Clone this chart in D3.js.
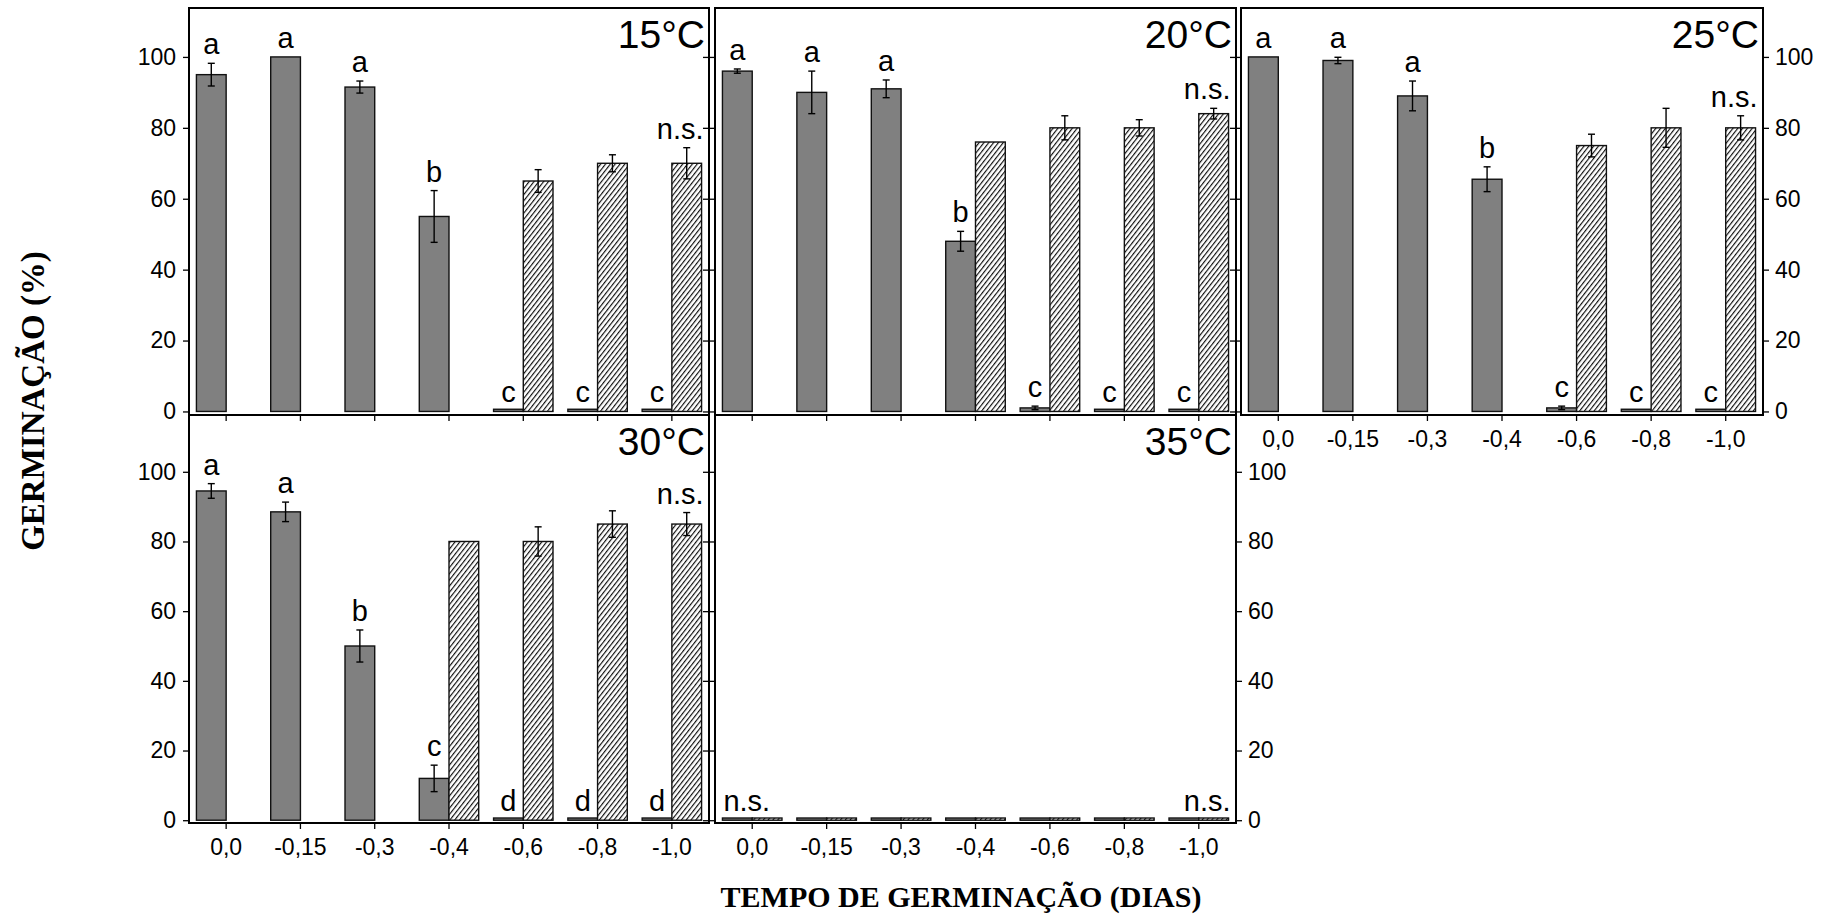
<!DOCTYPE html>
<html>
<head>
<meta charset="utf-8">
<script src="https://cdn.jsdelivr.net/npm/d3@7"></script>
<style>
  html, body { margin: 0; padding: 0; background: #fff; }
  svg { display: block; }
  .tick text { font-family: "Liberation Sans", Arial, sans-serif; font-size: 23px; fill: #000; }
</style>
</head>
<body>
<svg id="chart" width="1829" height="915"></svg>
<script>
// Osmotic potentials (MPa) on the category axis
const categories = ["0,0", "-0,15", "-0,3", "-0,4", "-0,6", "-0,8", "-1,0"];
const temperatures = ["15°C", "20°C", "25°C", "30°C", "35°C"];
const yTicks = [0, 20, 40, 60, 80, 100];

// Germination (%) in PEG solution (grey bars) with standard error
const germ15 = [95, 100, 91.5, 55, 0, 0, 0];
const germErr15 = [3.2, 0, 1.7, 7.3, 0, 0, 0];
const germ20 = [96, 90, 91, 48, 1, 0, 0];
const germErr20 = [0.6, 6, 2.5, 2.8, 0.5, 0, 0];
const germ25 = [100, 99, 89, 65.5, 1, 0, 0];
const germErr25 = [0, 0.9, 4.2, 3.5, 0.5, 0, 0];
const germ30 = [94.5, 88.5, 50, 12, 0, 0, 0];
const germErr30 = [2.1, 2.8, 4.6, 3.8, 0, 0, 0];
const germ35 = [0, 0, 0, 0, 0, 0, 0];
const germErr35 = [0, 0, 0, 0, 0, 0, 0];

// Germination (%) after transfer to water (hatched bars); null = not tested
const recov15 = [null, null, null, null, 65, 70, 70];
const recovErr15 = [null, null, null, null, 3.2, 2.4, 4.4];
const recov20 = [null, null, null, 76, 80, 80, 84];
const recovErr20 = [null, null, null, 0, 3.4, 2.3, 1.5];
const recov25 = [null, null, null, null, 75, 80, 80];
const recovErr25 = [null, null, null, null, 3.2, 5.5, 3.4];
const recov30 = [null, null, null, 80, 80, 85, 85];
const recovErr30 = [null, null, null, 0, 4.2, 3.8, 3.3];
const recov35 = [0, 0, 0, 0, 0, 0, 0];
const recovErr35 = [0, 0, 0, 0, 0, 0, 0];

// Tukey letters above grey bars
const letters15 = ["a", "a", "a", "b", "c", "c", "c"];
const letters20 = ["a", "a", "a", "b", "c", "c", "c"];
const letters25 = ["a", "a", "a", "b", "c", "c", "c"];
const letters30 = ["a", "a", "b", "c", "d", "d", "d"];
const letters35 = [null, null, null, null, null, null, null];

const svg = d3.select("#chart");
const FONT = '"Liberation Sans", Arial, sans-serif';
const SERIF = '"Liberation Serif", "Times New Roman", serif';

// diagonal hatch for the recovery bars
const defs = svg.append("defs");
defs.append("pattern")
  .attr("id", "hatch")
  .attr("patternUnits", "userSpaceOnUse")
  .attr("width", 3.8).attr("height", 3.8)
  .attr("patternTransform", "rotate(38)")
  .call(p => {
    p.append("rect").attr("width", 3.8).attr("height", 3.8).attr("fill", "#fff");
    p.append("line").attr("x1", 0.6).attr("y1", 0).attr("x2", 0.6).attr("y2", 3.8)
      .attr("stroke", "#000").attr("stroke-width", 1.1);
  });

const rows = [
  { top: 8, bottom: 415, domain: [-1, 113.8] },
  { top: 415, bottom: 823, domain: [-0.8, 116.3] }
];
const cols = [[189, 709], [715, 1236], [1241, 1763]];

const panels = [
  { name: temperatures[0], row: 0, col: 0, germ: germ15, germErr: germErr15, rec: recov15, recErr: recovErr15, letters: letters15, ns: ["last"], leftLabels: true, rightLabels: false, xLabels: false },
  { name: temperatures[1], row: 0, col: 1, germ: germ20, germErr: germErr20, rec: recov20, recErr: recovErr20, letters: letters20, ns: ["last"], leftLabels: false, rightLabels: false, xLabels: false },
  { name: temperatures[2], row: 0, col: 2, germ: germ25, germErr: germErr25, rec: recov25, recErr: recovErr25, letters: letters25, ns: ["last"], leftLabels: false, rightLabels: true, xLabels: true },
  { name: temperatures[3], row: 1, col: 0, germ: germ30, germErr: germErr30, rec: recov30, recErr: recovErr30, letters: letters30, ns: ["last"], leftLabels: true, rightLabels: false, xLabels: true },
  { name: temperatures[4], row: 1, col: 1, germ: germ35, germErr: germErr35, rec: recov35, recErr: recovErr35, letters: letters35, ns: ["first", "last"], leftLabels: false, rightLabels: true, xLabels: true }
];

panels.forEach(p => {
  const r = rows[p.row];
  const [x0, x1] = cols[p.col];
  const g = svg.append("g");

  const x = d3.scaleBand().domain(categories).range([x0, x1]).padding(0);
  const y = d3.scaleLinear().domain(r.domain).range([r.bottom, r.top]);
  const bw = x.bandwidth() * 0.4;
  const cx = c => x(c) + x.bandwidth() / 2;
  const minH = 2.2; // zero-height bars still show as a thin slab

  // grey bars (left of the tick)
  g.selectAll(".germ").data(categories).join("rect")
    .attr("x", c => cx(c) - bw)
    .attr("y", (c, i) => Math.min(y(p.germ[i]), y(0) - minH))
    .attr("width", bw)
    .attr("height", (c, i) => Math.max(minH, y(0) - y(p.germ[i])))
    .attr("fill", "#808080").attr("stroke", "#111").attr("stroke-width", 1.4);

  // hatched bars (right of the tick)
  const recIdx = categories.map((c, i) => i).filter(i => p.rec[i] !== null);
  g.selectAll(".rec").data(recIdx).join("rect")
    .attr("x", i => cx(categories[i]))
    .attr("y", i => Math.min(y(p.rec[i]), y(0) - minH))
    .attr("width", bw)
    .attr("height", i => Math.max(minH, y(0) - y(p.rec[i])))
    .attr("fill", "url(#hatch)").attr("stroke", "#111").attr("stroke-width", 1.4);

  // error bars
  const errGroup = (centerFn, vals, errs, idx) => {
    idx.filter(i => errs[i] > 0).forEach(i => {
      const xc = centerFn(i);
      const yh = y(vals[i] + errs[i]), yl = y(vals[i] - errs[i]);
      g.append("line").attr("x1", xc).attr("x2", xc).attr("y1", yh).attr("y2", yl)
        .attr("stroke", "#000").attr("stroke-width", 1.4);
      [yh, yl].forEach(yy => g.append("line").attr("x1", xc - 3.5).attr("x2", xc + 3.5)
        .attr("y1", yy).attr("y2", yy).attr("stroke", "#000").attr("stroke-width", 1.4));
    });
  };
  errGroup(i => cx(categories[i]) - bw / 2, p.germ, p.germErr, categories.map((c, i) => i));
  errGroup(i => cx(categories[i]) + bw / 2, p.rec, p.recErr, recIdx);

  // significance letters
  p.letters.forEach((l, i) => {
    if (!l) return;
    g.append("text")
      .attr("x", cx(categories[i]) - bw / 2)
      .attr("y", y(p.germ[i] + p.germErr[i]) - 9)
      .attr("text-anchor", "middle")
      .attr("font-family", FONT).attr("font-size", 29)
      .text(l);
  });
  p.ns.forEach(pos => {
    const i = pos === "first" ? 0 : categories.length - 1;
    const top = Math.max(p.rec[i] + (p.recErr[i] || 0), p.germ[i] + p.germErr[i]);
    g.append("text")
      .attr("x", pos === "first" ? cx(categories[i]) - bw + 1 : cx(categories[i]) + bw + 2)
      .attr("y", y(top) - 9)
      .attr("text-anchor", pos === "first" ? "start" : "end")
      .attr("font-family", FONT).attr("font-size", 29)
      .text("n.s.");
  });

  // axes
  const leftAxis = d3.axisLeft(y).tickValues(yTicks).tickSize(6).tickPadding(7)
    .tickFormat(p.leftLabels ? d3.format("d") : "");
  g.append("g").attr("transform", `translate(${x0},0)`).call(leftAxis)
    .call(a => a.select(".domain").remove())
    .call(a => a.selectAll("line").attr("stroke", "#000").attr("stroke-width", 1.3));

  const rightAxis = p.rightLabels
    ? d3.axisRight(y).tickValues(yTicks).tickSize(6).tickPadding(6).tickFormat(d3.format("d"))
    : d3.axisLeft(y).tickValues(yTicks).tickSize(6).tickFormat("");
  g.append("g").attr("transform", `translate(${x1},0)`).call(rightAxis)
    .call(a => a.select(".domain").remove())
    .call(a => a.selectAll("line").attr("stroke", "#000").attr("stroke-width", 1.3));

  const bottomAxis = d3.axisBottom(x).tickSize(6).tickPadding(10)
    .tickFormat(p.xLabels ? (d => d) : "");
  g.append("g").attr("transform", `translate(0,${r.bottom})`).call(bottomAxis)
    .call(a => a.select(".domain").remove())
    .call(a => a.selectAll("line").attr("stroke", "#000").attr("stroke-width", 1.3));

  // panel frame
  g.append("rect")
    .attr("x", x0).attr("y", r.top).attr("width", x1 - x0).attr("height", r.bottom - r.top)
    .attr("fill", "none").attr("stroke", "#000").attr("stroke-width", 2);

  // temperature label
  g.append("text")
    .attr("x", x1 - 4).attr("y", r.top + 40)
    .attr("text-anchor", "end")
    .attr("font-family", FONT).attr("font-size", 39)
    .text(p.name);
});

// axis titles
svg.append("text")
  .attr("transform", "translate(44,401) rotate(-90)")
  .attr("text-anchor", "middle")
  .attr("font-family", SERIF).attr("font-weight", "bold").attr("font-size", 33)
  .text("GERMINAÇÃO (%)");

svg.append("text")
  .attr("x", 961).attr("y", 907)
  .attr("text-anchor", "middle")
  .attr("font-family", SERIF).attr("font-weight", "bold").attr("font-size", 30)
  .text("TEMPO DE GERMINAÇÃO (DIAS)");
</script>
</body>
</html>
